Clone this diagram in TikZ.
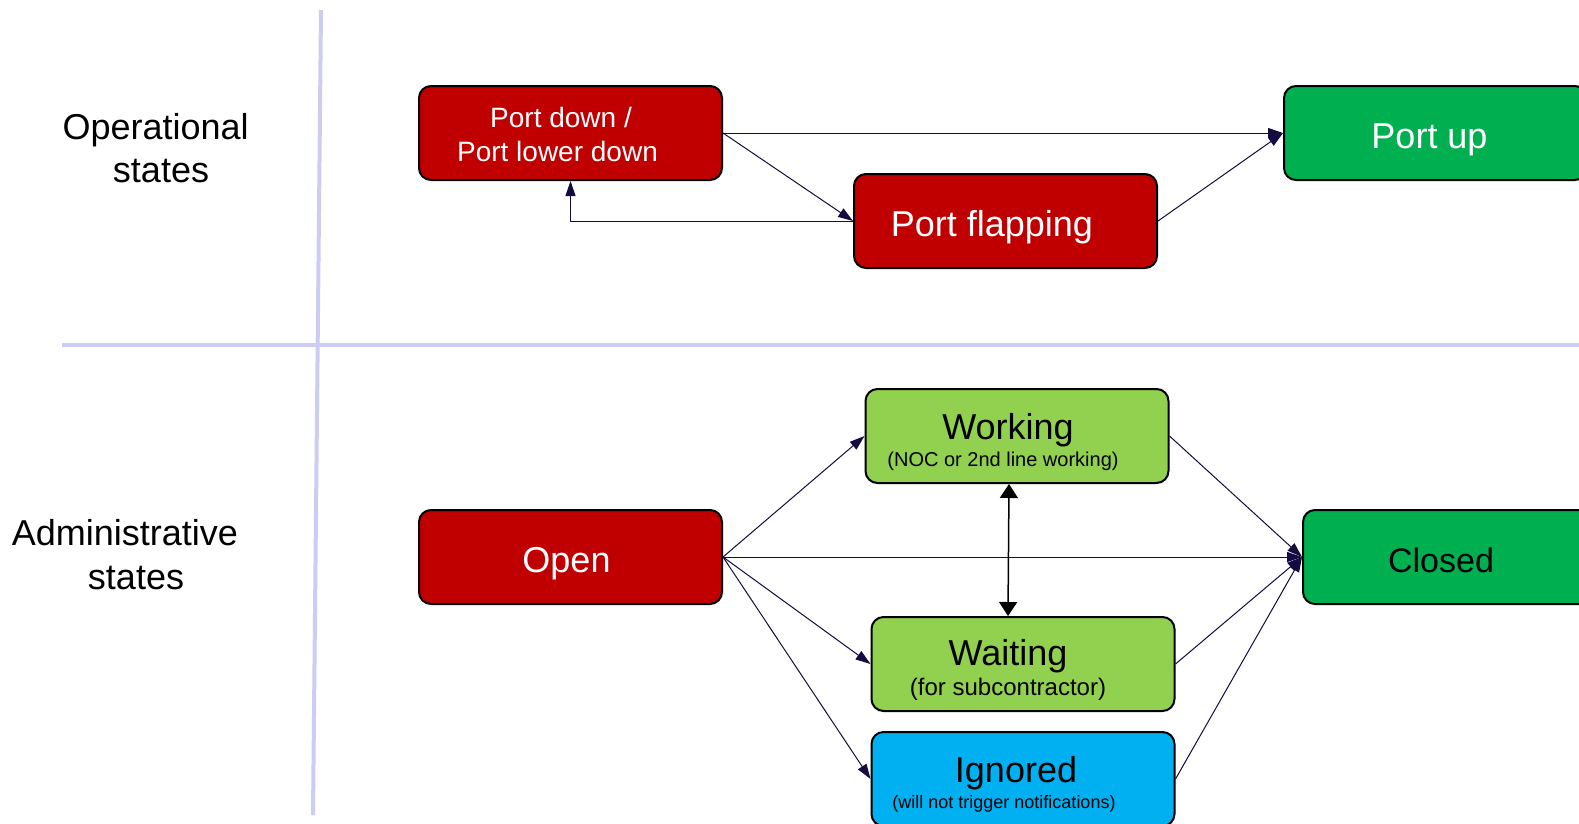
\documentclass[tikz,border=0pt]{standalone}
\usepackage{fontspec}
\setmainfont{Liberation Sans}
\usetikzlibrary{arrows.meta,calc}
\definecolor{boxred}{RGB}{192,0,0}
\definecolor{boxgreen}{RGB}{0,176,80}
\definecolor{boxlime}{RGB}{146,208,80}
\definecolor{boxblue}{RGB}{0,176,240}
\definecolor{sepcol}{RGB}{204,204,244}
\definecolor{arrcol}{RGB}{20,12,64}
\begin{document}
\begin{tikzpicture}[x=1pt,y=-1pt,
  statebox/.style={draw=black,line width=2pt,rounded corners=12pt,minimum width=303pt,minimum height=94pt,inner sep=0pt,anchor=center},
  lbl/.style={inner sep=0pt,anchor=base},
  big/.style={font=\fontsize{36}{43}\selectfont},
  conn/.style={draw=arrcol,line width=1pt,-{Triangle[length=15pt,width=10pt]}},
  sepline/.style={draw=sepcol,line width=4pt}]
\useasboundingbox (0,0) rectangle (1579,823);
\clip (0,0) rectangle (1579,823);
\fill[white] (0,0) rectangle (1579,823);
% separators
\coordinate (vt) at (321,10);
\coordinate (vb) at (313,815);
\coordinate (hl) at (62,345);
\coordinate (hr) at (1579,345);
\draw[sepline] (vt) -- (vb);
\draw[sepline] (hl) -- (hr);
% row labels
\node[lbl,big] (op1) at (155.7,139) {Operational};
\node[lbl,big] (op2) at (161,182) {states};
\node[lbl,big] (ad1) at (125,545) {Administrative};
\node[lbl,big] (ad2) at (136,589) {states};
% boxes
\node[statebox,fill=boxred] (pd) at (570.5,133) {};
\node[statebox,fill=boxred] (pf) at (1005.5,221) {};
\node[statebox,fill=boxgreen] (pu) at (1435.5,133) {};
\node[statebox,fill=boxred] (op) at (570.5,557) {};
\node[statebox,fill=boxlime] (wk) at (1017,436) {};
\node[statebox,fill=boxlime] (wt) at (1023,664) {};
\node[statebox,fill=boxblue] (ig) at (1023,779) {};
\node[statebox,fill=boxgreen] (cl) at (1454.5,557) {};
% connectors
\draw[conn] (pd.east) -- (pu.west);
\draw[conn] (pd.east) -- (pf.west);
\draw[conn] (pf.west) -| (pd.south);
\draw[conn] (pf.east) -- (pu.west);
\draw[conn] (op.east) -- (wk.west);
\draw[conn] (op.east) -- (cl.west);
\draw[conn] (op.east) -- (wt.west);
\draw[conn] (op.east) -- (ig.west);
\draw[conn] (wk.east) -- (cl.west);
\draw[conn] (wt.east) -- (cl.west);
\draw[conn] (ig.east) -- (cl.west);
\draw[black,line width=1.5pt,{Triangle[length=14pt,width=18pt]}-{Triangle[length=14pt,width=18pt]}] ($(wk.south)+(-8,0)$) -- ($(wt.north)+(-15,0)$);
% box texts
\node[lbl,text=white,font=\fontsize{28}{33}\selectfont] (pdt1) at (561,127) {Port down /};
\node[lbl,text=white,font=\fontsize{28}{33}\selectfont] (pdt2) at (557.5,161) {Port lower down};
\node[lbl,big,text=white] (pft) at (992,236) {Port flapping};
\node[lbl,big,text=white] (put) at (1429.5,148) {Port up};
\node[lbl,big,text=white] (opt) at (566.5,572) {Open};
\node[lbl,font=\fontsize{34}{40}\selectfont] (clt) at (1441,572) {Closed};
\node[lbl,big] (wkt) at (1008,439) {Working};
\node[lbl,font=\fontsize{20}{24}\selectfont] (wks) at (1003,466) {(NOC or 2nd line working)};
\node[lbl,big] (wtt) at (1008,665) {Waiting};
\node[lbl,font=\fontsize{24}{28}\selectfont] (wts) at (1008,695) {(for subcontractor)};
\node[lbl,big] (igt) at (1016,782) {Ignored};
\node[lbl,font=\fontsize{18}{22}\selectfont] (igs) at (1004,808) {(will not trigger notifications)};
\end{tikzpicture}
\end{document}
